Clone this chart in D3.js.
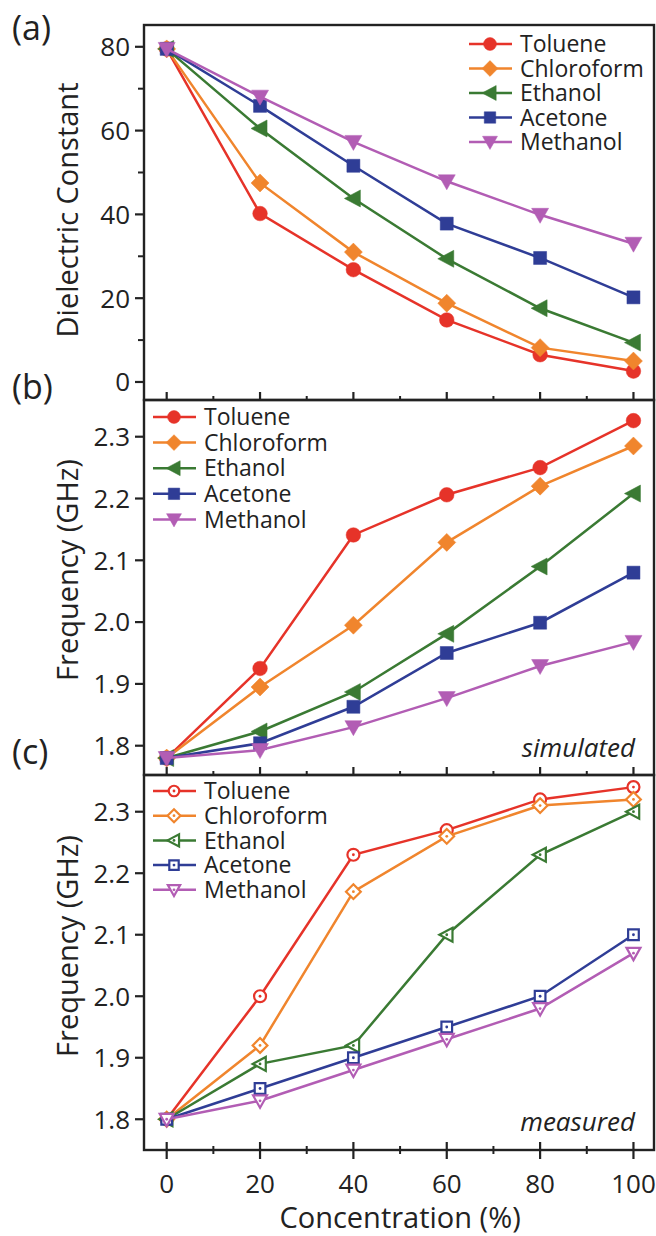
<!DOCTYPE html>
<html>
<head>
<meta charset="utf-8">
<script src="https://cdn.jsdelivr.net/npm/d3@7/dist/d3.min.js"></script>
<style>
  html, body { margin: 0; padding: 0; background: #fff; }
  svg text { font-family: "Open Sans", "Noto Sans", sans-serif; fill: #222; }
</style>
</head>
<body>
<div id="chart"></div>
<script>
// data
const concentration = [0, 20, 40, 60, 80, 100];
const solvents = ['Toluene', 'Chloroform', 'Ethanol', 'Acetone', 'Methanol'];
const colors = ['#e63329', '#f0852d', '#3a7a33', '#2f3d96', '#b25db4'];
const shapes = ['circle', 'diamond', 'left', 'square', 'down'];

// (a) dielectric constant, one row per solvent
const dielectric = [
    [79.5, 40.2, 26.8, 14.8, 6.5, 2.6],
    [79.5, 47.5, 31.0, 18.8, 8.2, 5.0],
    [79.5, 60.5, 43.8, 29.4, 17.6, 9.4],
    [79.5, 65.9, 51.6, 37.8, 29.6, 20.2],
    [79.5, 68.1, 57.3, 47.9, 39.9, 33.0]
];
// (b) simulated frequency (GHz)
const simulated = [
    [1.78, 1.925, 2.141, 2.206, 2.250, 2.326],
    [1.78, 1.895, 1.995, 2.129, 2.220, 2.285],
    [1.78, 1.823, 1.887, 1.981, 2.090, 2.208],
    [1.78, 1.804, 1.863, 1.950, 1.999, 2.080],
    [1.78, 1.793, 1.830, 1.877, 1.929, 1.968]
];
// (c) measured frequency (GHz)
const measured = [
    [1.80, 2.00, 2.23, 2.27, 2.32, 2.34],
    [1.80, 1.92, 2.17, 2.26, 2.31, 2.32],
    [1.80, 1.89, 1.92, 2.10, 2.23, 2.30],
    [1.80, 1.85, 1.90, 1.95, 2.00, 2.10],
    [1.80, 1.83, 1.88, 1.93, 1.98, 2.07]
];

const dielTicks = [0, 20, 40, 60, 80];
const dielMinor = [10, 30, 50, 70];
const freqTicks = [1.8, 1.9, 2.0, 2.1, 2.2, 2.3];
const xTicks = [0, 20, 40, 60, 80, 100];
const xMinor = [10, 30, 50, 70, 90];

const W = 656, H = 1236;
const left = 144, right = 654;

const svg = d3.select('#chart').append('svg')
    .attr('width', W).attr('height', H);

const x = d3.scaleLinear().domain([-4.86, 104.4]).range([left, right]);

// marker path for a shape, s = scale
function markerPath(shape, s) {
    const p = d3.path();
    if (shape === 'circle') {
        p.arc(0, 0, 7.3 * s, 0, 2 * Math.PI);
    } else if (shape === 'diamond') {
        const r = 9 * s;
        p.moveTo(0, -r); p.lineTo(r, 0); p.lineTo(0, r); p.lineTo(-r, 0);
    } else if (shape === 'left') {
        p.moveTo(-9 * s, 0); p.lineTo(7 * s, -8.5 * s); p.lineTo(7 * s, 8.5 * s);
    } else if (shape === 'square') {
        const r = 6.5 * s;
        p.rect(-r, -r, 2 * r, 2 * r);
    } else {
        p.moveTo(-8.5 * s, -6.5 * s); p.lineTo(8.5 * s, -6.5 * s); p.lineTo(0, 8.5 * s);
    }
    p.closePath();
    return p.toString();
}

function drawMarker(g, shape, color, hollow, cx, cy, s) {
    const m = g.append('g').attr('transform', `translate(${cx},${cy})`);
    m.append('path')
        .attr('d', markerPath(shape, hollow ? s * 0.82 : s))
        .attr('fill', hollow ? '#fff' : color)
        .attr('stroke', color)
        .attr('stroke-width', hollow ? 2.2 : 0.5);
    if (hollow) {
        m.append('circle').attr('r', 1.4).attr('fill', color);
    }
}

function panel(opts) {
    const { top, bottom, domain, values, ticks, minor, hollow, legendX, legendY, legendStep,
            label, labelY, title, titleY, note, xLabels } = opts;
    const y = d3.scaleLinear().domain(domain).range([bottom, top]);
    const g = svg.append('g');

    // left axis ticks (outward)
    g.selectAll('.ytick').data(ticks).enter().append('line')
        .attr('x1', left - 9).attr('x2', left)
        .attr('y1', d => y(d)).attr('y2', d => y(d))
        .attr('stroke', '#222').attr('stroke-width', 2.2);
    g.selectAll('.yminor').data(minor).enter().append('line')
        .attr('x1', left - 6).attr('x2', left)
        .attr('y1', d => y(d)).attr('y2', d => y(d))
        .attr('stroke', '#222').attr('stroke-width', 2);
    g.selectAll('.ylab').data(ticks).enter().append('text')
        .attr('x', left - 14).attr('y', d => y(d))
        .attr('dy', '0.36em')
        .attr('text-anchor', 'end')
        .style('font-size', '26px')
        .text(d => ticks === freqTicks ? d.toFixed(1) : d);

    // bottom ticks
    const cross = !!xLabels;
    g.selectAll('.xtick').data(xTicks).enter().append('line')
        .attr('x1', d => x(d)).attr('x2', d => x(d))
        .attr('y1', bottom - 8).attr('y2', cross ? bottom + 9 : bottom)
        .attr('stroke', '#222').attr('stroke-width', 2.2);
    g.selectAll('.xminor').data(xMinor).enter().append('line')
        .attr('x1', d => x(d)).attr('x2', d => x(d))
        .attr('y1', bottom - 4).attr('y2', cross ? bottom + 4 : bottom)
        .attr('stroke', '#222').attr('stroke-width', 2);
    if (xLabels) {
        g.selectAll('.xlab').data(xTicks).enter().append('text')
            .attr('x', d => x(d)).attr('y', bottom + 43)
            .attr('text-anchor', 'middle')
            .style('font-size', '26px')
            .text(d => d);
    }

    // series
    const line = d3.line().x((d, i) => x(concentration[i])).y(d => y(d));
    values.forEach((vals, si) => {
        g.append('path')
            .attr('d', line(vals))
            .attr('fill', 'none')
            .attr('stroke', colors[si])
            .attr('stroke-width', 2.5);
        vals.forEach((v, i) => drawMarker(g, shapes[si], colors[si], hollow, x(concentration[i]), y(v), 1));
    });

    // frame
    g.append('rect')
        .attr('x', left).attr('y', top)
        .attr('width', right - left).attr('height', bottom - top)
        .attr('fill', 'none').attr('stroke', '#222').attr('stroke-width', 2.4);

    // legend
    solvents.forEach((name, i) => {
        const ly = legendY + i * legendStep;
        g.append('line')
            .attr('x1', legendX - 21).attr('x2', legendX + 22)
            .attr('y1', ly).attr('y2', ly)
            .attr('stroke', colors[i]).attr('stroke-width', 2.5);
        drawMarker(g, shapes[i], colors[i], hollow, legendX, ly, 0.88);
        g.append('text')
            .attr('x', legendX + 30).attr('y', ly)
            .attr('dy', '0.36em')
            .style('font-size', '23px')
            .text(name);
    });

    // y title
    g.append('text')
        .attr('transform', `translate(78,${titleY}) rotate(-90)`)
        .attr('text-anchor', 'middle')
        .style('font-size', '29px')
        .text(title);

    // panel label
    svg.append('text')
        .attr('x', 12).attr('y', labelY)
        .style('font-size', '34px')
        .text(label);

    if (note) {
        g.append('text')
            .attr('x', 635).attr('y', note.y)
            .attr('text-anchor', 'end')
            .style('font-size', '26px')
            .style('font-style', 'italic')
            .text(note.text);
    }
}

panel({
    top: 25, bottom: 400, domain: [-4.3, 85.2], values: dielectric,
    ticks: dielTicks, minor: dielMinor, hollow: false,
    legendX: 490, legendY: 44, legendStep: 24.5,
    label: '(a)', labelY: 40, title: 'Dielectric Constant', titleY: 210
});
panel({
    top: 400, bottom: 775, domain: [1.7526, 2.3594], values: simulated,
    ticks: freqTicks, minor: [], hollow: false,
    legendX: 174, legendY: 417, legendStep: 25.6,
    label: '(b)', labelY: 399, title: 'Frequency (GHz)', titleY: 570,
    note: { text: 'simulated', y: 757 }
});
panel({
    top: 775, bottom: 1150, domain: [1.75, 2.3597], values: measured,
    ticks: freqTicks, minor: [], hollow: true,
    legendX: 174, legendY: 791, legendStep: 24.7,
    label: '(c)', labelY: 764, title: 'Frequency (GHz)', titleY: 946,
    note: { text: 'measured', y: 1131 }, xLabels: true
});

svg.append('text')
    .attr('x', x(50)).attr('y', 1228)
    .attr('text-anchor', 'middle')
    .style('font-size', '29px')
    .text('Concentration (%)');
</script>
</body>
</html>
